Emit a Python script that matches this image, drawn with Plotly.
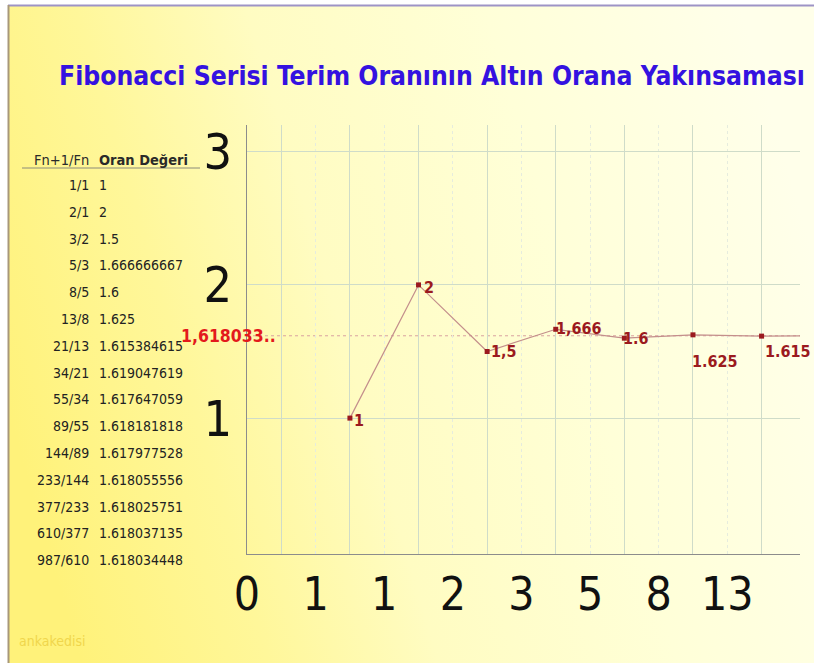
import base64
import plotly.graph_objects as go

# ---------------- data ----------------
tick_positions = [0, 1, 2, 3, 4, 5, 6, 7]
tick_labels = ["0", "1", "1", "2", "3", "5", "8", "13"]

point_slots = [1, 2, 3, 4, 5, 6, 7, 8]          # ratio between tick k-1 and tick k
ratio_values = [1, 2, 1.5, 1.666666667, 1.6, 1.625, 1.615384615, 1.619047619]
point_labels = ["1", "2", "1,5", "1,666", "1.6", "1.625", "1.615", ""]

golden_ratio = 1.618033
golden_label = "1,618033.."

y_tick_values = [1, 2, 3]
y_tick_labels = ["1", "2", "3"]

table_fractions = ["1/1", "2/1", "3/2", "5/3", "8/5", "13/8", "21/13", "34/21", "55/34",
                   "89/55", "144/89", "233/144", "377/233", "610/377", "987/610"]
table_values = ["1", "2", "1.5", "1.666666667", "1.6", "1.625", "1.615384615", "1.619047619",
                "1.617647059", "1.618181818", "1.617977528", "1.618055556", "1.618025751",
                "1.618037135", "1.618034448"]
table_header = ["Fn+1/Fn", "Oran Değeri"]

title_text = "Fibonacci Serisi Terim Oranının Altın Orana Yakınsaması"
watermark = "ankakedisi"

# ---------------- layout geometry ----------------
W, H = 814, 667
L, R, T, B = 247, 14, 125, 113
PW = W - L - R
PH = H - T - B


def px(xp):
    return (xp - L) / PW


def py(yp):
    return (H - B - yp) / PH


COND = "DejaVu Sans Condensed, Liberation Sans Narrow, Arial Narrow, DejaVu Sans, sans-serif"
DARK_RED = "#9b1a1e"

x_points = [s + 0.5 for s in point_slots]

fig = go.Figure()
fig.add_trace(go.Scatter(
    x=x_points, y=ratio_values, mode="lines+markers",
    line=dict(color="#c48f8c", width=1.2),
    marker=dict(symbol="square", size=5, color=DARK_RED),
    hoverinfo="skip", showlegend=False, cliponaxis=True,
))

# golden ratio dotted line
fig.add_shape(type="line", xref="x", yref="y", x0=0, x1=8.06, y0=golden_ratio, y1=golden_ratio,
              line=dict(color="#d9a3a0", width=1, dash="dot"), layer="below")

annotations = []
# point labels
label_offsets = [(9, -2), (10, -3), (17, 0), (23, 1), (12, 0), (22, -27), (26, -15), (0, 0)]
for xv, yv, lab, (dx, dy) in zip(x_points, ratio_values, point_labels, label_offsets):
    if not lab:
        continue
    annotations.append(dict(x=xv, y=yv, xref="x", yref="y", text=lab, showarrow=False,
                            xshift=dx, yshift=dy, xanchor="center", yanchor="middle",
                            font=dict(family=COND, size=16, color=DARK_RED, weight="bold")))

# golden label
annotations.append(dict(x=px(278), y=golden_ratio, xref="paper", yref="y", text=golden_label,
                        showarrow=False, xanchor="right", yanchor="middle",
                        font=dict(family=COND, size=17.5, color="#e3191c", weight="bold")))

# title
annotations.append(dict(x=px(432), y=py(76), xref="paper", yref="paper", text=title_text,
                        showarrow=False, xanchor="center", yanchor="middle",
                        font=dict(family=COND, size=26.3, color="#3412e0", weight="bold")))

# table header
annotations.append(dict(x=px(91), y=py(160), xref="paper", yref="paper", text=table_header[0],
                        showarrow=False, xanchor="right", yanchor="middle",
                        font=dict(family=COND, size=14.5, color="#2a2a2a")))
annotations.append(dict(x=px(97), y=py(160), xref="paper", yref="paper", text=table_header[1],
                        showarrow=False, xanchor="left", yanchor="middle",
                        font=dict(family=COND, size=14.5, color="#2a2a2a", weight="bold")))
for i, (fr, val) in enumerate(zip(table_fractions, table_values)):
    yp = 185 + 26.8 * i
    annotations.append(dict(x=px(91), y=py(yp), xref="paper", yref="paper", text=fr,
                            showarrow=False, xanchor="right", yanchor="middle",
                            font=dict(family=COND, size=14, color="#222222")))
    annotations.append(dict(x=px(97), y=py(yp), xref="paper", yref="paper", text=val,
                            showarrow=False, xanchor="left", yanchor="middle",
                            font=dict(family=COND, size=14, color="#222222")))

# watermark
annotations.append(dict(x=px(17), y=py(641), xref="paper", yref="paper", text=watermark,
                        showarrow=False, xanchor="left", yanchor="middle",
                        font=dict(family=COND, size=14, color="#f0d64c")))

# table underline
fig.add_shape(type="line", xref="paper", yref="paper", x0=px(22), x1=px(200), y0=py(168), y1=py(168),
              line=dict(color="#8a8a7a", width=1))
# frame borders
fig.add_shape(type="line", xref="paper", yref="paper", x0=px(8), x1=px(814), y0=py(5.5), y1=py(5.5),
              line=dict(color="#9d93c6", width=2))
fig.add_shape(type="line", xref="paper", yref="paper", x0=px(8.5), x1=px(8.5), y0=py(5), y1=py(663),
              line=dict(color="#a8987a", width=2))

# background gradient as svg image
svg = ("<svg xmlns='http://www.w3.org/2000/svg' width='806' height='658' preserveAspectRatio='none'>"
       "<defs><linearGradient id='g' x1='0' y1='0.62' x2='1' y2='0.38'>"
       "<stop offset='0' stop-color='#fff27a'/>"
       "<stop offset='0.22' stop-color='#fff79a'/>"
       "<stop offset='0.42' stop-color='#fffcc2'/>"
       "<stop offset='0.7' stop-color='#ffffd8'/>"
       "<stop offset='1' stop-color='#ffffea'/>"
       "</linearGradient></defs><rect width='806' height='658' fill='url(#g)'/></svg>")
src = "data:image/svg+xml;base64," + base64.b64encode(svg.encode()).decode()
fig.add_layout_image(dict(source=src, xref="paper", yref="paper", x=px(8), y=py(5),
                          sizex=806 / PW, sizey=658 / PH, sizing="stretch", layer="below",
                          xanchor="left", yanchor="top"))

fig.update_layout(
    width=W, height=H, margin=dict(l=L, r=R, t=T, b=B),
    paper_bgcolor="white", plot_bgcolor="rgba(0,0,0,0)",
    annotations=annotations, showlegend=False,
    xaxis=dict(range=[0, 8.06], tickmode="array", tickvals=tick_positions, ticktext=tick_labels,
               showgrid=True, gridcolor="#e6ecde", griddash="dot", gridwidth=1,
               minor=dict(tickmode="array", tickvals=[s + 0.5 for s in [0] + point_slots],
                          showgrid=True, gridcolor="#cfdcc9", griddash="solid", gridwidth=1),
               showline=True, linecolor="#8c8c8c", linewidth=1, zeroline=False,
               ticks="", ticklabelstandoff=0,
               tickfont=dict(family=COND, size=46, color="#111111")),
    yaxis=dict(range=[-0.02, 3.2], tickmode="array", tickvals=y_tick_values, ticktext=y_tick_labels,
               showgrid=True, gridcolor="#cfdcc9", gridwidth=1,
               showline=True, linecolor="#8c8c8c", linewidth=1, zeroline=False,
               ticks="", ticklabelstandoff=4,
               tickfont=dict(family=COND, size=50, color="#111111")),
)

fig.write_html("out.html", config={"displayModeBar": False},
               post_script="document.body.style.margin='0';")
